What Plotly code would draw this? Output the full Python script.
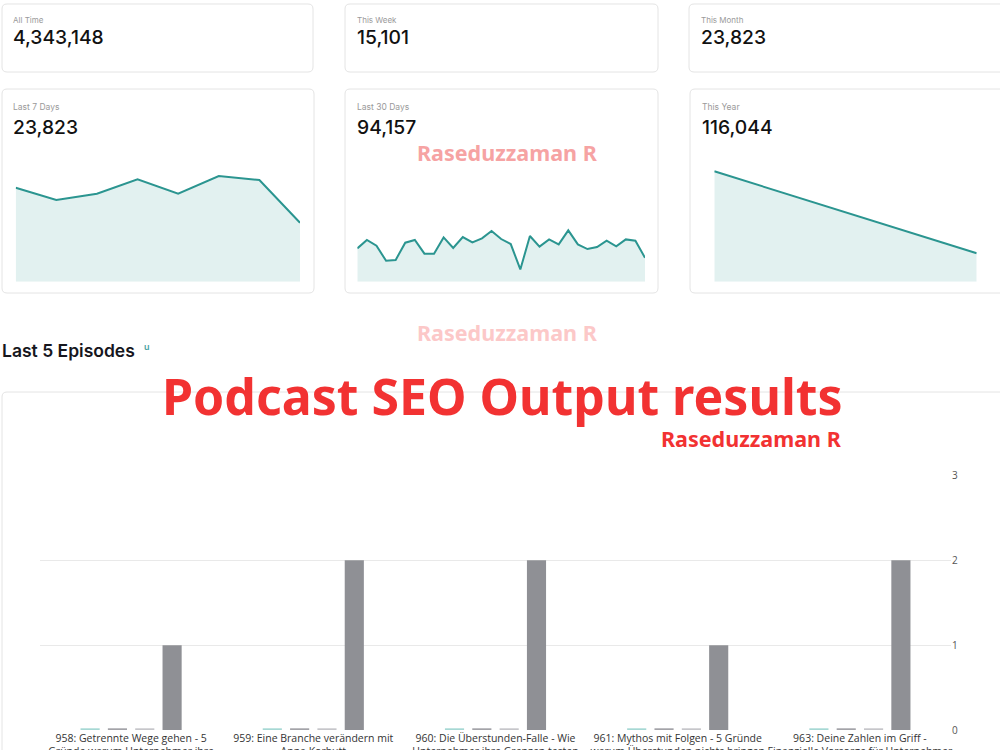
import plotly.graph_objects as go

W, H = 1000, 750

# ---------------- data ----------------
stat_labels = ["All Time", "This Week", "This Month"]
stat_values = ["4,343,148", "15,101", "23,823"]

spark_labels = ["Last 7 Days", "Last 30 Days", "This Year"]
spark_totals = ["23,823", "94,157", "116,044"]

last7_days = [0, 1, 2, 3, 4, 5, 6, 7]
last7_values = [3570, 3100, 3340, 3890, 3340, 4010, 3860, 2240]

last30_days = list(range(31))
last30_values = [2530, 3170, 2730, 1590, 1650, 2960, 3170, 2130, 2130, 3360,
                 2560, 3390, 2980, 3290, 3850, 3240, 2860, 930, 3470, 2660,
                 3210, 2830, 3900, 2830, 2480, 2630, 3110, 2680, 3210, 3110, 1820]

year_months = ["Jan", "Feb"]
year_values = [92221, 23823]

episodes = [
    "958: Getrennte Wege gehen - 5<br>Gründe warum Unternehmer ihre",
    "959: Eine Branche verändern mit<br>Anna Korbutt",
    "960: Die Überstunden-Falle - Wie<br>Unternehmer ihre Grenzen testen",
    "961: Mythos mit Folgen - 5 Gründe<br>warum Überstunden nichts bringen",
    "963: Deine Zahlen im Griff -<br>Finanzielle Vorsorge für Unternehmer",
]
series_a = [0.02, 0.02, 0.02, 0.02, 0.02]
series_b = [0.02, 0.02, 0.02, 0.02, 0.02]
series_c = [0.02, 0.02, 0.02, 0.02, 0.02]
series_d = [1, 2, 2, 1, 2]
bar_ticks = [0, 1, 2, 3]

# ---------------- helpers ----------------
def fx(px):
    return px / W

def fy(py):
    return 1 - py / H

def rounded_rect(x0, y0, x1, y1, r=5):
    X = lambda v: f"{fx(v):.5f}"
    Y = lambda v: f"{fy(v):.5f}"
    return (f"M {X(x0+r)} {Y(y0)} L {X(x1-r)} {Y(y0)} Q {X(x1)} {Y(y0)} {X(x1)} {Y(y0+r)} "
            f"L {X(x1)} {Y(y1-r)} Q {X(x1)} {Y(y1)} {X(x1-r)} {Y(y1)} "
            f"L {X(x0+r)} {Y(y1)} Q {X(x0)} {Y(y1)} {X(x0)} {Y(y1-r)} "
            f"L {X(x0)} {Y(y0+r)} Q {X(x0)} {Y(y0)} {X(x0+r)} {Y(y0)} Z")

LINE = "#2b9590"
FILL = "#e2f1f0"
FONT = "Inter"

fig = go.Figure()

# sparklines
fig.add_trace(go.Scatter(x=last7_days, y=last7_values, mode="lines", fill="tozeroy",
                         line=dict(color=LINE, width=2), fillcolor=FILL,
                         xaxis="x", yaxis="y", hoverinfo="skip"))
fig.add_trace(go.Scatter(x=last30_days, y=last30_values, mode="lines", fill="tozeroy",
                         line=dict(color=LINE, width=2), fillcolor=FILL,
                         xaxis="x2", yaxis="y2", hoverinfo="skip"))
fig.add_trace(go.Scatter(x=year_months, y=year_values, mode="lines", fill="tozeroy",
                         line=dict(color=LINE, width=2), fillcolor=FILL,
                         xaxis="x3", yaxis="y3", hoverinfo="skip"))

# bars
bar_colors = ["#a6d8d4", "#a3a3a8", "#c6c6ca", "#8f9095"]
for vals, col in zip([series_a, series_b, series_c, series_d], bar_colors):
    fig.add_trace(go.Bar(x=episodes, y=vals, marker=dict(color=col, line=dict(width=0)),
                         xaxis="x4", yaxis="y4", showlegend=False))

spark_y_domain = [fy(281.7), fy(150)]
hidden = dict(visible=False, fixedrange=True)

fig.update_layout(
    width=W, height=H,
    margin=dict(l=0, r=0, t=0, b=0),
    paper_bgcolor="white", plot_bgcolor="rgba(0,0,0,0)",
    showlegend=False,
    barmode="group", bargap=0.4, bargroupgap=0.3,
    font=dict(family=FONT),
    xaxis=dict(domain=[fx(15.7), fx(300)], range=[0, 7], anchor="y", **hidden),
    yaxis=dict(domain=spark_y_domain, range=[0, 5000], anchor="x", **hidden),
    xaxis2=dict(domain=[fx(357.3), fx(645)], range=[0, 30], anchor="y2", **hidden),
    yaxis2=dict(domain=spark_y_domain, range=[0, 10000], anchor="x2", **hidden),
    xaxis3=dict(domain=[fx(714.3), fx(976.7)], range=[0, 1], type="category", anchor="y3", **hidden),
    yaxis3=dict(domain=spark_y_domain, range=[0, 110000], anchor="x3", **hidden),
    xaxis4=dict(domain=[fx(40), fx(951)], anchor="y4", showgrid=False, showline=False,
                zeroline=False, ticks="",
                tickfont=dict(family="Open Sans", size=10.5, color="#333333"),
                automargin=False),
    yaxis4=dict(domain=[fy(730), fy(475.5)], range=[0, 3], side="right", anchor="x4",
                tickvals=bar_ticks, showgrid=True, gridcolor="#e9e9e9", gridwidth=1,
                zeroline=False, showline=False, ticks="",
                tickfont=dict(family="Open Sans", size=10, color="#555555"),
                automargin=False),
)

# cards
shapes = []
cards = [(2, 4, 313, 72), (345, 4, 658, 72), (689, 4, 1010, 72),
         (2, 89, 314, 293), (345, 89, 658, 293), (690, 89, 1010, 293),
         (2, 392, 1010, 770)]
for c in cards:
    shapes.append(dict(type="path", path=rounded_rect(*c), xref="paper", yref="paper",
                       line=dict(color="#e4e4e4", width=1), fillcolor="white", layer="below"))
fig.update_layout(shapes=shapes)

ann = []
def text(x, y, s, size, color, weight=400, family=FONT, xanchor="left"):
    ann.append(dict(x=fx(x), y=fy(y), xref="paper", yref="paper", text=s, showarrow=False,
                    xanchor=xanchor, yanchor="middle", borderpad=0,
                    font=dict(family=family, size=size, color=color, weight=weight)))

xs_top = [12, 356, 700]
for x, lab, val in zip(xs_top, stat_labels, stat_values):
    text(x, 20, lab, 8, "#9a9a9a")
    text(x, 37, val, 19.3, "#111111", 500)
xs_mid = [12, 356, 701]
for x, lab, val in zip(xs_mid, spark_labels, spark_totals):
    text(x, 107, lab, 8.5, "#9a9a9a")
    text(x, 127, val, 19.3, "#111111", 500)

text(1, 350, "Last 5 Episodes", 17.5, "#16161d", 600)
text(143, 346, "u", 9, "#4aa3a3", 600)

text(507, 152, "Raseduzzaman R", 21.5, "#f6a3a3", 700, "Noto Sans", "center")
text(507, 333, "Raseduzzaman R", 21.5, "#fcc8c8", 700, "Noto Sans", "center")
text(502, 396, "Podcast SEO Output results", 50, "#f23232", 700, "Noto Sans", "center")
text(751, 438, "Raseduzzaman R", 21.5, "#f23232", 700, "Noto Sans", "center")

fig.update_layout(annotations=ann)

fig.write_html("out.html")
